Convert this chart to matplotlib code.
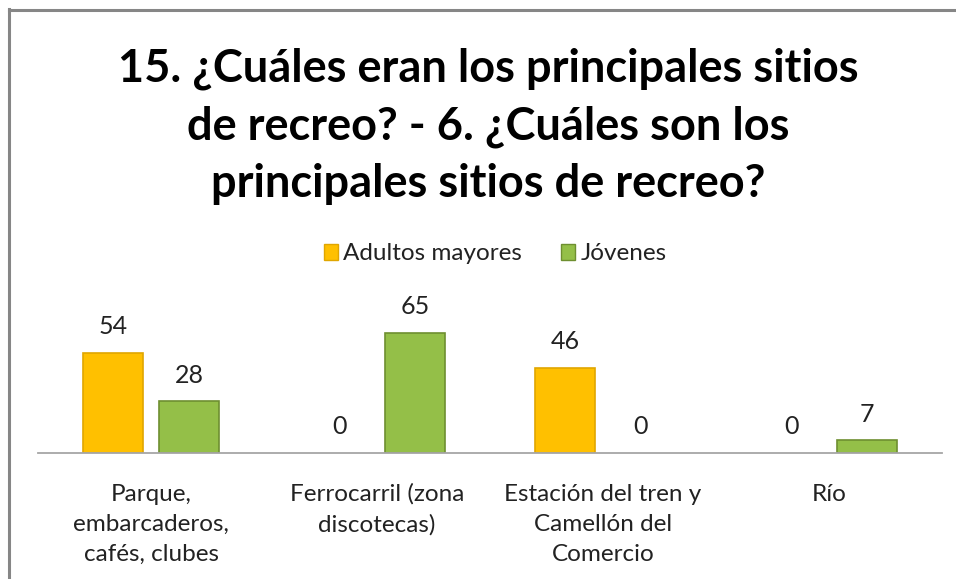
import matplotlib
matplotlib.use("Agg")
import matplotlib.pyplot as plt
from matplotlib.patches import Patch
from matplotlib.lines import Line2D

plt.rcParams['font.family'] = ['Lato', 'DejaVu Sans']

categorias = ["Parque,\nembarcaderos,\ncafés, clubes",
              "Ferrocarril (zona\ndiscotecas)",
              "Estación del tren y\nCamellón del\nComercio",
              "Río"]
adultos = [54, 0, 46, 0]
jovenes = [28, 65, 0, 7]
series = ["Adultos mayores", "Jóvenes"]
titulo = "15. ¿Cuáles eran los principales sitios\nde recreo? - 6. ¿Cuáles son los\nprincipales sitios de recreo?"

amarillo = "#FFC000"
verde = "#94BF48"
texto = "#222222"

W, H = 956, 579
fig = plt.figure(figsize=(W / 100, H / 100), dpi=100)

# borde del grafico (solo arriba e izquierda se ven)
fig.add_artist(Line2D([9 / W, 9 / W], [0, 1 - 9 / H], color="#868686", lw=2.2))
fig.add_artist(Line2D([9 / W, 1], [1 - 10 / H, 1 - 10 / H], color="#868686", lw=2.2))

ymax = 70
ax = fig.add_axes([38 / W, (H - 453) / H, 904 / W, ymax * 1.852 / H])
ax.set_xlim(-0.5, 3.5)
ax.set_ylim(0, ymax)

x = list(range(len(categorias)))
ancho = 0.265
desp = 0.168
b1 = ax.bar([i - desp for i in x], adultos, ancho, color=amarillo,
            edgecolor=["#E0A600" if v else "none" for v in adultos], linewidth=1.2)
b2 = ax.bar([i + desp for i in x], jovenes, ancho, color=verde,
            edgecolor=["#6E8F30" if v else "none" for v in jovenes], linewidth=1.2)

for barras, vals in [(b1, adultos), (b2, jovenes)]:
    for r, v in zip(barras, vals):
        ax.annotate(str(v), (r.get_x() + r.get_width() / 2, v),
                    xytext=(0, 26), textcoords="offset pixels",
                    ha="center", va="center", fontsize=18, color=texto)

for s in ["top", "right", "left"]:
    ax.spines[s].set_visible(False)
ax.spines["bottom"].set_color("#A6A6A6")
ax.spines["bottom"].set_linewidth(1.3)
ax.set_yticks([])
ax.set_xticks(x)
ax.set_xticklabels(categorias, fontsize=17.5, color=texto, linespacing=1.53)
ax.tick_params(axis="x", length=0, pad=22)

fig.text(488 / W, 1 - 48 / H, titulo, ha="center", va="top", fontsize=32.5,
         fontweight="bold", linespacing=1.44, color="#000000")

handles = [Patch(facecolor=amarillo, edgecolor="#E0A600"),
           Patch(facecolor=verde, edgecolor="#6E8F30")]
fig.legend(handles, series, loc="center", bbox_to_anchor=(495 / W, 1 - 254 / H),
           ncol=2, frameon=False, fontsize=17.5, handlelength=0.6,
           handleheight=0.6, handletextpad=0.2, columnspacing=1.6,
           labelcolor=texto)

plt.savefig("out.png", dpi=100)
